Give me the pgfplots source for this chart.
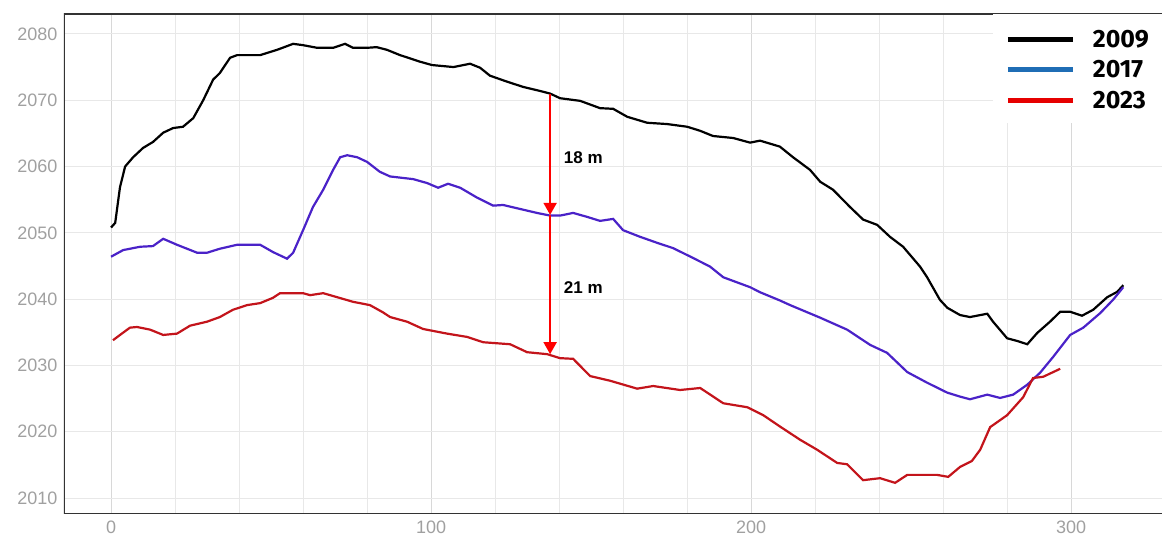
\documentclass[border=0pt]{standalone}
\usepackage{pgfplots}
\pgfplotsset{compat=1.18}
\usepackage{fontspec}
\setmainfont{Liberation Sans}
\newfontfamily\legfont{Fira Sans}
\usetikzlibrary{arrows.meta}
\definecolor{gridc}{HTML}{E8E8E8}
\definecolor{gridm}{HTML}{D8D8D8}
\definecolor{tickc}{HTML}{A0A0A0}
\definecolor{l17}{HTML}{4A22C8}
\definecolor{l23}{HTML}{C3141B}
\definecolor{g17}{HTML}{1F6DB5}
\definecolor{g23}{HTML}{E60000}
\begin{document}
\begin{tikzpicture}
\begin{axis}[
  scale only axis, width=1098pt, height=500pt,
  xmin=-14.7, xmax=328.4, ymin=2007.6, ymax=2083.0,
  xtick={0,100,200,300}, minor x tick num=4,
  ytick={2010,2020,...,2080},
  grid=both,
  major grid style={draw=gridm, line width=0.8pt},
  minor grid style={draw=gridc, line width=0.8pt},
  y grid style={draw=gridc, line width=0.8pt},
  major tick length=0pt, minor tick length=0pt,
  axis line style={draw=none},
  tick label style={font=\fontsize{18}{20}\selectfont, text=tickc},
  /pgf/number format/assume math mode=true,
  /pgf/number format/1000 sep={},
  xticklabel style={yshift=-3pt},
  yticklabel style={xshift=-3pt},
  legend style={at={(rel axis cs:1,1)}, anchor=north east, draw=none, fill=white,
    font=\legfont\bfseries\fontsize{25}{26}\selectfont, row sep=10.5pt,
    inner xsep=12pt, inner ysep=14pt,
    nodes={inner sep=1pt, text height=18pt, text depth=0pt}},
  legend cell align=left,
  legend image code/.code={\draw[#1, line width=5pt] (0pt,-1pt) -- (65pt,-1pt); \path[draw=none] (0pt,0pt) -- (84pt,0pt);},
]
\addplot[black, line width=2.2pt, forget plot] coordinates {
(0,2050.8) (1.3,2051.5) (2.8,2056.9) (4.4,2060.0) (6.9,2061.4) (10,2062.8) (13.1,2063.7) (16.3,2065.1) (19.4,2065.8) (22.5,2066.0) (25.7,2067.3) (28.8,2070.0) (31.9,2073.1) (34,2074.1) (37.2,2076.4) (39.4,2076.8) (46.6,2076.8) (51.9,2077.6) (56.9,2078.5) (60,2078.3) (64.4,2077.9) (69.4,2077.9) (73.1,2078.5) (75.6,2077.9) (80,2077.9) (83,2078.0) (86.2,2077.6) (90.3,2076.8) (96.6,2075.8) (100.3,2075.3) (107,2075.0) (112.2,2075.5) (115.3,2074.9) (118.4,2073.7) (123.7,2072.8) (128.8,2072.0) (134,2071.4) (137.2,2071.0) (140.3,2070.3) (146.6,2069.9) (152.8,2068.8) (156.9,2068.7) (161.3,2067.5) (167.5,2066.6) (173.8,2066.4) (180,2066.0) (184,2065.4) (188.1,2064.6) (194.4,2064.3) (199.7,2063.6) (202.8,2063.9) (209,2063.0) (213.1,2061.4) (218.4,2059.5) (221.6,2057.7) (225.6,2056.5) (230.9,2053.9) (235,2052.0) (239.4,2051.2) (243.4,2049.4) (247.5,2047.9) (252.8,2044.9) (255,2043.3) (259,2039.9) (261.3,2038.7) (265.3,2037.6) (268.4,2037.3) (273.8,2037.8) (275.6,2036.6) (280,2034.1) (283.1,2033.7) (286.3,2033.2) (289.4,2034.9) (293.4,2036.6) (296.6,2038.1) (299.7,2038.1) (303.4,2037.5) (306.9,2038.4) (311.3,2040.3) (314.4,2041.1) (316.3,2042.1)
};
\addplot[l17, line width=2.2pt, forget plot] coordinates {
(0,2046.4) (3.8,2047.4) (9.1,2047.9) (13.1,2048.0) (16.3,2049.1) (20.6,2048.2) (26.9,2047.0) (30,2047.0) (34,2047.6) (39.4,2048.2) (46.6,2048.2) (50.6,2047.1) (55,2046.1) (56.9,2047.0) (60,2050.4) (63.1,2053.9) (66.3,2056.5) (69.4,2059.5) (71.6,2061.4) (73.8,2061.7) (76.9,2061.4) (80,2060.7) (84,2059.2) (87.2,2058.5) (94.4,2058.1) (98.8,2057.5) (102.2,2056.8) (105.3,2057.4) (109.1,2056.8) (114.4,2055.3) (119.4,2054.1) (122.5,2054.2) (127.8,2053.6) (133.1,2053.0) (137.2,2052.6) (140.3,2052.6) (144.4,2053.0) (148.8,2052.4) (152.8,2051.8) (156.9,2052.1) (160,2050.4) (165.3,2049.4) (170.6,2048.5) (175.6,2047.7) (181.9,2046.2) (187.2,2044.9) (191.3,2043.3) (199.7,2041.8) (203,2041.0) (209,2039.8) (212.2,2039.1) (221.6,2037.2) (230,2035.4) (237.2,2033.1) (242.5,2031.9) (248.8,2029.0) (255,2027.4) (261.3,2025.9) (265.3,2025.3) (268.4,2024.9) (273.8,2025.6) (277.8,2025.1) (281.9,2025.6) (286.3,2027.1) (290.3,2028.9) (294.4,2031.3) (299.7,2034.6) (303.8,2035.7) (309.1,2037.9) (313.1,2039.9) (316.3,2041.8)
};
\addplot[l23, line width=2.2pt, forget plot] coordinates {
(0.6,2033.8) (2.8,2034.6) (5.9,2035.7) (8.1,2035.8) (12.2,2035.4) (16.3,2034.6) (20.6,2034.8) (24.7,2036.0) (30,2036.6) (34,2037.3) (38.1,2038.4) (42.5,2039.1) (46.6,2039.4) (50.6,2040.2) (52.8,2040.9) (60,2040.9) (62.2,2040.6) (66.3,2040.9) (70.6,2040.3) (75.6,2039.6) (80.9,2039.1) (85,2038.0) (87.2,2037.3) (92.5,2036.6) (97.5,2035.5) (105,2034.8) (111.3,2034.3) (116.3,2033.5) (124.7,2033.2) (130,2032.0) (136.3,2031.7) (140.3,2031.1) (144.4,2031.0) (149.7,2028.4) (155.9,2027.7) (164.4,2026.5) (169.4,2026.9) (177.8,2026.3) (184.1,2026.6) (191.3,2024.3) (198.8,2023.7) (203.8,2022.5) (209,2020.8) (215.3,2018.8) (220.6,2017.3) (226.9,2015.3) (230,2015.1) (235,2012.7) (240.3,2013.0) (245,2012.3) (248.8,2013.5) (258.1,2013.5) (261.6,2013.2) (265.3,2014.7) (269,2015.6) (271.6,2017.3) (274.7,2020.7) (280,2022.5) (285,2025.2) (288.1,2028.1) (291.3,2028.3) (296.6,2029.5)
};
\addlegendimage{black}
\addlegendentry{2009}
\addlegendimage{g17}
\addlegendentry{2017}
\addlegendimage{g23}
\addlegendentry{2023}
\draw[red, line width=1.8pt, -{Triangle[width=13pt,length=12pt]}] (axis cs:137.2,2070.95) -- (axis cs:137.2,2052.7);
\draw[red, line width=1.8pt, -{Triangle[width=13pt,length=12pt]}] (axis cs:137.2,2052.7) -- (axis cs:137.2,2031.7);
\node[anchor=west, font=\bfseries\fontsize{17}{19}\selectfont] at (axis cs:140.4,2061.3) {18 m};
\node[anchor=west, font=\bfseries\fontsize{17}{19}\selectfont] at (axis cs:140.4,2041.8) {21 m};
\draw[draw=black!80, line width=1.5pt] (rel axis cs:1,1) -- (rel axis cs:0,1) -- (rel axis cs:0,0) -- (rel axis cs:1,0);
\coordinate (SW) at (rel axis cs:0,0);
\coordinate (NE) at (rel axis cs:1,1);
\end{axis}
\pgfresetboundingbox
\useasboundingbox ([xshift=-64pt,yshift=-21pt]SW) rectangle ([yshift=14pt]NE);
\end{tikzpicture}
\end{document}
